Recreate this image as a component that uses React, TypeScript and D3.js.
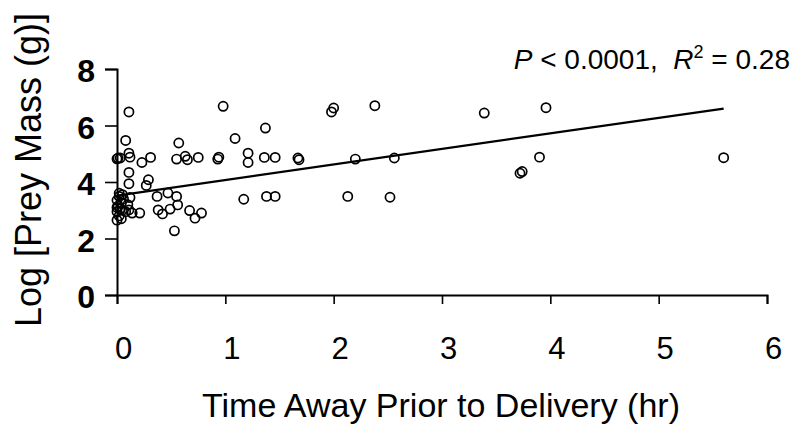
import { useEffect, useRef } from "react";
import * as d3 from "d3";

// Time away prior to delivery (hr) and log prey mass (g)
const timeAway = [
  0.11, 0.08, 0.11, 0.12, 0.01, 0.03, 0.0, 0.23, 0.31, 0.11, 0.11, 0.29, 0.27,
  0.05, 0.02, 0.12, 0.37, 0.47, 0.55, 0.56, 0.49, 0.38, 0.42, 0.67, 0.72, 0.78,
  0.21, 0.14, 0.11, 0.53, 0.57, 0.55, 0.63, 0.65, 0.75, 0.93, 0.94, 0.98, 1.09,
  1.21, 1.21, 1.17, 1.37, 1.36, 1.46, 1.38, 1.46,
  1.98, 2.0, 2.38, 3.39, 1.67, 1.68, 2.2, 2.56, 2.13, 2.52, 3.72, 3.74,
  3.96, 3.9, 5.6,
  0.0, 0.02, 0.0, 0.03, 0.01, 0.04, 0.0, 0.05, 0.08, 0.02, 0.06, 0.1, 0.0, 0.04,
];
const preyMass = [
  6.48, 5.47, 5.02, 4.88, 4.85, 4.85, 4.82, 4.69, 4.87, 4.34, 3.94, 4.08, 3.88,
  3.55, 3.49, 3.45, 3.49, 3.61, 3.49, 3.19, 3.04, 3.01, 2.87, 2.99, 2.72, 2.9,
  2.9, 2.9, 3.01, 2.27, 5.38, 4.81, 4.91, 4.79, 4.87, 4.81, 4.88, 6.68, 5.54,
  5.02, 4.69, 3.39, 5.91, 4.87, 4.87, 3.49, 3.49,
  6.48, 6.62, 6.7, 6.44, 4.85, 4.79, 4.81, 4.85, 3.49, 3.46, 4.31, 4.37,
  6.63, 4.88, 4.86,
  2.65, 2.8, 2.95, 3.05, 3.15, 3.25, 3.35, 3.0, 2.95, 3.6, 3.4, 3.2, 3.1, 2.7,
];

const xTicks = [0, 1, 2, 3, 4, 5, 6];
const yTicks = [0, 2, 4, 6, 8];

// fitted regression line
const fitIntercept = 3.52;
const fitSlope = 0.55;
const fitRange = [0, 5.6];

const ScatterPlot = () => {
  const ref = useRef<SVGSVGElement | null>(null);

  useEffect(() => {
    const svg = d3.select(ref.current);
    svg.selectAll("*").remove();

    const margin = { top: 69, left: 117 };
    const width = 650;
    const height = 226;
    const font = "'Liberation Sans', Arial, sans-serif";

    const g = svg
      .append("g")
      .attr("transform", `translate(${margin.left},${margin.top})`);

    const x = d3.scaleLinear().domain([0, 6]).range([0, width]);
    const y = d3.scaleLinear().domain([0, 8]).range([height, 0]);

    // axes
    const xAxis = g
      .append("g")
      .attr("transform", `translate(0,${height})`)
      .call(d3.axisBottom(x).tickValues(xTicks).tickSize(9).tickPadding(33).tickFormat(d3.format("d")));
    xAxis.select(".domain").attr("stroke-width", 2);
    xAxis.selectAll("line").attr("stroke-width", 1.6);
    xAxis
      .selectAll("text")
      .attr("font-family", font)
      .attr("font-size", 31)
      .attr("dx", 6)
      .attr("fill", "#000");

    const yAxis = g
      .append("g")
      .call(d3.axisLeft(y).tickValues(yTicks).tickSize(12).tickPadding(10).tickFormat(d3.format("d")));
    yAxis.select(".domain").attr("stroke-width", 2);
    yAxis.selectAll("line").attr("stroke-width", 1.6);
    yAxis
      .selectAll("text")
      .attr("font-family", font)
      .attr("font-size", 32)
      .attr("font-weight", "bold")
      .attr("dy", "0.4em")
      .attr("fill", "#000");

    // regression line
    const line = d3
      .line<number>()
      .x((d) => x(d))
      .y((d) => y(fitIntercept + fitSlope * d));
    g.append("path")
      .datum(fitRange)
      .attr("d", line)
      .attr("fill", "none")
      .attr("stroke", "#000")
      .attr("stroke-width", 2.2);

    // points
    g.selectAll(".pt")
      .data(timeAway)
      .enter()
      .append("circle")
      .attr("cx", (d) => x(d))
      .attr("cy", (_, i) => y(preyMass[i]))
      .attr("r", 4.6)
      .attr("fill", "none")
      .attr("stroke", "#000")
      .attr("stroke-width", 1.7);

    // axis titles
    svg
      .append("text")
      .attr("x", 441)
      .attr("y", 417)
      .attr("text-anchor", "middle")
      .attr("font-family", font)
      .attr("font-size", 34)
      .text("Time Away Prior to Delivery (hr)");

    svg
      .append("text")
      .attr("transform", "translate(41,170) rotate(-90)")
      .attr("text-anchor", "middle")
      .attr("font-family", font)
      .attr("font-size", 36)
      .text("Log [Prey Mass (g)]");

    // statistics
    const stat = svg
      .append("text")
      .attr("x", 790)
      .attr("y", 69)
      .attr("text-anchor", "end")
      .attr("font-family", font)
      .attr("font-size", 28);
    stat.append("tspan").attr("font-style", "italic").text("P");
    stat.append("tspan").text(" < 0.0001,\u00a0 ");
    stat.append("tspan").attr("font-style", "italic").text("R");
    stat.append("tspan").attr("font-size", 18).attr("dy", -11).text("2");
    stat.append("tspan").attr("dy", 11).text(" = 0.28");
  }, []);

  return (
    <svg
      ref={ref}
      width={811}
      height={432}
      style={{ position: "absolute", left: 0, top: 0, background: "#fff" }}
    />
  );
};

export default function App() {
  return <ScatterPlot />;
}
